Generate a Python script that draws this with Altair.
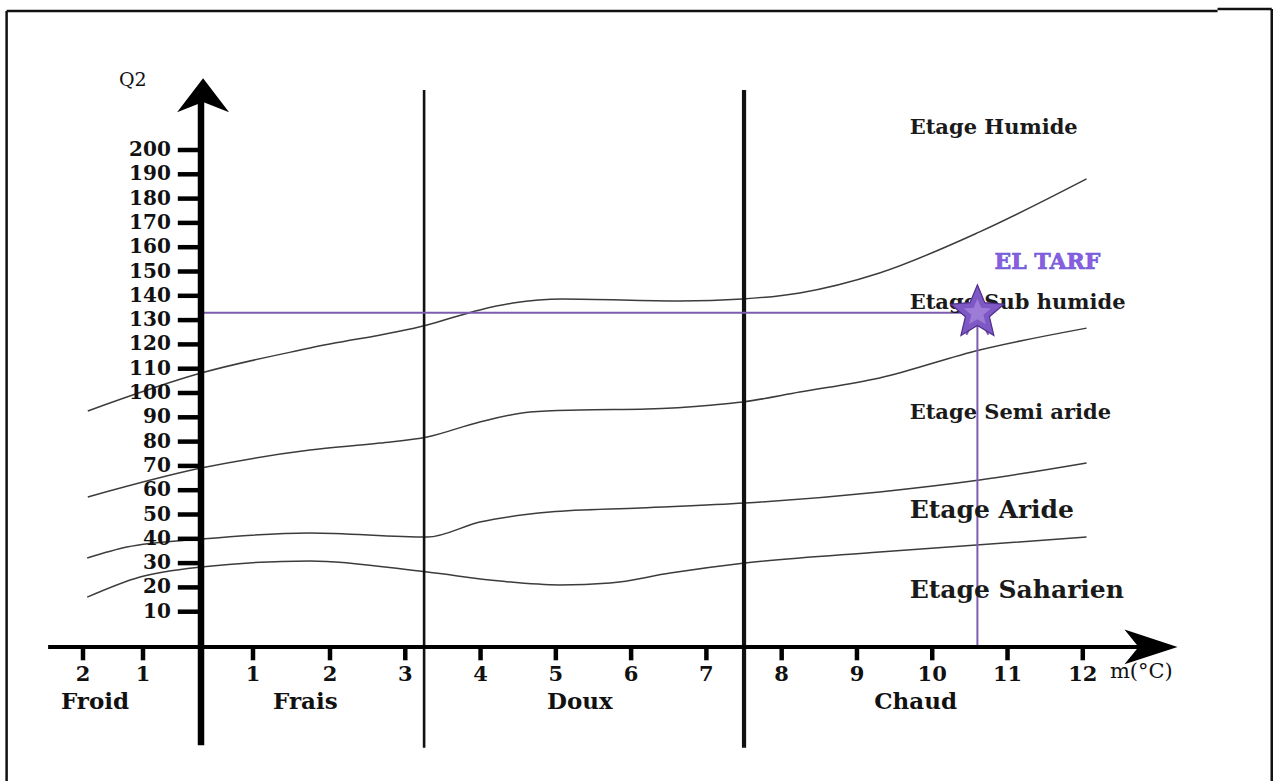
import altair as alt
import pandas as pd

# ---------------- data ----------------
# boundary curves (m in °C, Q2)
c1_m = [-1.92, 0.0, 1.74, 3.29, 3.99, 4.43, 5.09, 6.65, 7.48, 8.24, 9.30, 10.63, 12.05]
c1_q = [92.6, 108.2, 118.5, 128.0, 134.2, 137.0, 138.7, 137.9, 138.7, 141.2, 149.4, 166.3, 188.1]

c2_m = [-1.92, 0.0, 1.74, 2.66, 3.29, 3.99, 4.66, 5.32, 6.21, 7.09, 7.48, 8.24, 9.30, 10.63, 12.05]
c2_q = [57.2, 69.1, 76.5, 79.4, 81.9, 88.1, 92.2, 93.0, 93.4, 95.1, 96.3, 100.4, 106.2, 117.7, 126.7]

c3_m = [-1.93, -1.27, 0.0, 1.74, 3.29, 3.99, 4.92, 6.12, 7.51, 9.30, 10.63, 12.05]
c3_q = [32.1, 36.6, 39.9, 42.4, 40.7, 46.9, 51.0, 52.7, 54.7, 59.3, 64.2, 71.2]

c4_m = [-1.93, -1.05, 0.0, 1.74, 3.29, 4.26, 5.05, 5.72, 6.52, 7.51, 9.30, 12.05]
c4_q = [16.0, 24.3, 28.4, 30.9, 26.3, 22.6, 21.0, 21.8, 25.9, 30.0, 34.6, 40.7]

# axis ticks
y_ticks = [10, 20, 30, 40, 50, 60, 70, 80, 90, 100, 110, 120, 130, 140, 150, 160, 170, 180, 190, 200]
x_ticks = [-2, -1, 1, 2, 3, 4, 5, 6, 7, 8, 9, 10, 11, 12]
x_tick_labels = ["2", "1", "1", "2", "3", "4", "5", "6", "7", "8", "9", "10", "11", "12"]

# thermal zones
zone_names = ["Froid", "Frais", "Doux", "Chaud"]
zone_m = [-1.8, 1.68, 5.32, 9.78]
zone_bounds = [3.25, 7.5]

# bioclimatic stages
etage_names = ["Etage Humide", "Etage Sub humide", "Etage Semi aride", "Etage Aride", "Etage Saharien"]
etage_q = [209.0, 137.0, 91.8, 51.9, 18.9]
etage_size = [21, 21, 21, 25, 25]

# station
station_name = "EL TARF"
station_m = 10.6
station_q = 133.0

# ---------------- scales ----------------
W, H = 1274, 781
xs = alt.Scale(domain=[-3.38, -2, -1, 0, 1, 2, 14.54], range=[0, 83, 143, 201, 253, 330, W],
               nice=False, zero=False)
ys = alt.Scale(domain=[-59.67, 261.73], nice=False, zero=False)


def X(f):
    return alt.X(f, type="quantitative", scale=xs, axis=None)


def Y(f):
    return alt.Y(f, type="quantitative", scale=ys, axis=None)


SERIF = "DejaVu Serif"
PURPLE = "#7d5cb0"
STAR = ("M0,-1L0.2645,-0.364L0.951,-0.309L0.428,0.139L0.588,0.809L0,0.45"
        "L-0.588,0.809L-0.428,0.139L-0.951,-0.309L-0.2645,-0.364Z")

# curves (one layer per curve)
curve_layers = []
for ms, qs in [(c1_m, c1_q), (c2_m, c2_q), (c3_m, c3_q), (c4_m, c4_q)]:
    df = pd.DataFrame({"m": ms, "q": qs})
    curve_layers.append(
        alt.Chart(df).mark_line(color="#3c3c3c", strokeWidth=1.5, interpolate="monotone").encode(
            x=X("m"), y=Y("q")))

# zone boundary vertical lines
bounds_df = pd.DataFrame({"m": zone_bounds, "q1": [-46.0, -46.0], "q2": [224.7, 224.7], "w": [2.6, 4.2]})
bounds = alt.Chart(bounds_df).mark_rule(color="#111").encode(
    x=X("m"), y=Y("q1"), y2="q2", strokeWidth=alt.StrokeWidth("w:Q", scale=None))

# y axis line + arrow
yaxis_df = pd.DataFrame({"m": [0.0], "q1": [-45.0], "q2": [222.0]})
yaxis = alt.Chart(yaxis_df).mark_rule(color="#000", strokeWidth=6.5).encode(x=X("m"), y=Y("q1"), y2="q2")
yarrow = alt.Chart(pd.DataFrame({"m": [0.04], "q": [222.6]})).mark_point(
    shape="M0,-0.65L1,0.66L0,0.27L-1,0.66Z", filled=True, color="#000", opacity=1, size=2704
).encode(x=X("m"), y=Y("q"))

# x axis line + arrow
xaxis_df = pd.DataFrame({"m1": [-2.58], "m2": [12.9], "q": [-4.5]})
xaxis = alt.Chart(xaxis_df).mark_rule(color="#000", strokeWidth=4).encode(x=X("m1"), x2="m2", y=Y("q"))
xarrow = alt.Chart(pd.DataFrame({"m": [12.94], "q": [-4.5]})).mark_point(
    shape="M0.8,0L-0.97,-0.58L-0.5,0L-0.97,0.58Z", filled=True, color="#000", opacity=1, size=3600
).encode(x=X("m"), y=Y("q"))

# x ticks and labels
xt_df = pd.DataFrame({"m": x_ticks, "lab": x_tick_labels, "q1": [-4.5] * len(x_ticks),
                      "q2": [-10.0] * len(x_ticks), "ql": [-16.2] * len(x_ticks)})
xticks = alt.Chart(xt_df).mark_rule(color="#000", strokeWidth=4.5).encode(x=X("m"), y=Y("q1"), y2="q2")
xlabels = alt.Chart(xt_df).mark_text(font=SERIF, fontWeight="bold", fontSize=21, baseline="middle",
                                     align="center", color="#111").encode(x=X("m"), y=Y("ql"), text="lab:N")

# y ticks and labels
yt_df = pd.DataFrame({"q": y_ticks, "m1": [-0.40] * len(y_ticks), "m2": [0.0] * len(y_ticks),
                      "ml": [-0.52] * len(y_ticks)})
yticks = alt.Chart(yt_df).mark_rule(color="#000", strokeWidth=4.5).encode(x=X("m1"), x2="m2", y=Y("q"))
ylabels = alt.Chart(yt_df).mark_text(font=SERIF, fontWeight="bold", fontSize=20, baseline="middle",
                                     align="right", color="#111").encode(x=X("ml"), y=Y("q"), text="q:Q")

# axis titles
q2_title = alt.Chart(pd.DataFrame({"m": [-1.17], "q": [229.0], "t": ["Q2"]})).mark_text(
    font=SERIF, fontSize=19, baseline="middle", align="center", color="#111").encode(
    x=X("m"), y=Y("q"), text="t:N")
m_title = alt.Chart(pd.DataFrame({"m": [12.36], "q": [-15.0], "t": ["m(°C)"]})).mark_text(
    font=SERIF, fontSize=21, baseline="middle", align="left", color="#111").encode(
    x=X("m"), y=Y("q"), text="t:N")

# zone labels
zone_df = pd.DataFrame({"m": zone_m, "t": zone_names, "q": [-27.0] * 4})
zones = alt.Chart(zone_df).mark_text(font=SERIF, fontWeight="bold", fontSize=23, baseline="middle",
                                     align="center", color="#111").encode(x=X("m"), y=Y("q"), text="t:N")

# etage labels
et_df = pd.DataFrame({"m": [9.70] * 5, "q": etage_q, "t": etage_names, "s": etage_size})
etages = alt.Chart(et_df).mark_text(font=SERIF, fontWeight="bold", baseline="middle", align="left",
                                    color="#1a1a1a").encode(
    x=X("m"), y=Y("q"), text="t:N", size=alt.Size("s:Q", scale=None, legend=None))

# station lines and marker
st_h = pd.DataFrame({"m1": [0.0], "m2": [station_m], "q": [station_q]})
st_v = pd.DataFrame({"m": [station_m], "q1": [-4.5], "q2": [station_q]})
st_hline = alt.Chart(st_h).mark_rule(color=PURPLE, strokeWidth=2).encode(x=X("m1"), x2="m2", y=Y("q"))
st_vline = alt.Chart(st_v).mark_rule(color=PURPLE, strokeWidth=2).encode(x=X("m"), y=Y("q1"), y2="q2")
st_pt = pd.DataFrame({"m": [station_m], "q": [station_q], "t": [station_name]})
st_chev = alt.Chart(st_pt).mark_point(shape="M-0.5,1L0,0L0.5,1", filled=False, color=PURPLE,
                                      strokeWidth=2, opacity=1, size=1936).encode(x=X("m"), y=Y("q"))
st_star = alt.Chart(st_pt).mark_point(shape=STAR, filled=True, fill="#7e58c4", stroke="#4e2f8c",
                                      strokeWidth=1.2, opacity=1, fillOpacity=1, size=3136).encode(
    x=X("m"), y=Y("q"))
st_star_hi = alt.Chart(st_pt).mark_point(shape=STAR, filled=True, fill="#b59ae6", opacity=0.55,
                                         size=800).encode(x=X("m"), y=Y("q"))
st_lab_df = pd.DataFrame({"m": [11.53], "q": [153.9], "t": [station_name]})
st_label = alt.Chart(st_lab_df).mark_text(font=SERIF, fontWeight="bold", fontSize=22, baseline="middle",
                                          align="center", color="#8f5be0", stroke="#5b5bd6",
                                          strokeWidth=0.6).encode(x=X("m"), y=Y("q"), text="t:N")

# frame
fr_v = pd.DataFrame({"m": [-3.27, 14.51], "q1": [-59.67, -59.67], "q2": [257.2, 258.0]})
fr_h = pd.DataFrame({"m1": [-3.27, 13.79], "m2": [13.79, 14.51], "q": [257.2, 258.0]})
frame_v = alt.Chart(fr_v).mark_rule(color="#111", strokeWidth=2.5).encode(x=X("m"), y=Y("q1"), y2="q2")
frame_h = alt.Chart(fr_h).mark_rule(color="#111", strokeWidth=2.5).encode(x=X("m1"), x2="m2", y=Y("q"))

chart = alt.layer(
    frame_v, frame_h, *curve_layers, bounds, st_hline, st_vline, yaxis, yarrow, xaxis, xarrow,
    xticks, xlabels, yticks, ylabels, q2_title, m_title, zones, etages, st_label, st_chev,
    st_star, st_star_hi
).properties(
    width=W, height=H, padding=0, autosize=alt.AutoSizeParams(type="none"), background="white"
).configure_view(stroke=None)

chart.save("out.html", embed_options={"renderer": "svg", "actions": False})
